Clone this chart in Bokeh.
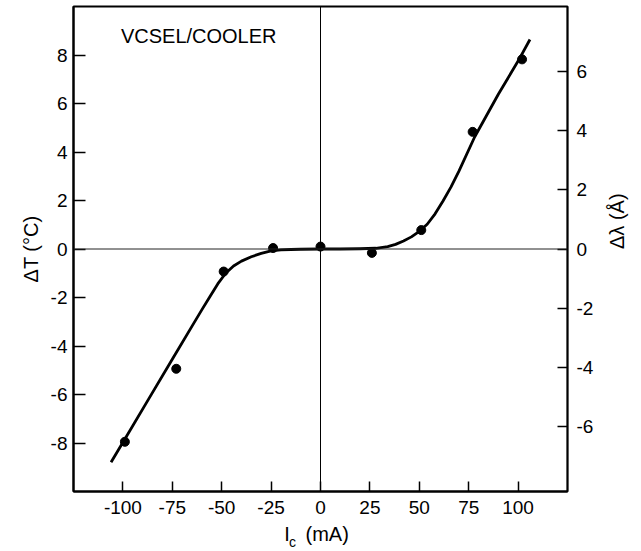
import math
from bokeh.plotting import figure
from bokeh.models import Range1d, LinearAxis, FixedTicker, Span, Label
from bokeh.embed import file_html
from bokeh.resources import INLINE

# measured points
current_ma = [-99, -73, -49, -24, 0, 26, 51, 77, 102]
delta_t = [-7.95, -4.94, -0.93, 0.04, 0.1, -0.16, 0.78, 4.83, 7.82]

# fitted curve
curve_i = [-106, -98, -87, -75, -65, -60, -56, -52, -48, -44, -40, -35, -30, -25, -20,
           -15, -10, 0, 10, 20, 28, 34, 38, 42, 46, 50, 54, 58, 62, 66, 70, 78, 90, 100, 106]
curve_t = [-8.79, -7.7, -6.19, -4.55, -3.18, -2.5, -1.97, -1.44, -1.0, -0.7, -0.5, -0.32,
           -0.18, -0.08, -0.04, -0.02, -0.01, 0.0, 0.0, 0.01, 0.03, 0.1, 0.19, 0.33,
           0.5, 0.73, 1.02, 1.45, 1.98, 2.55, 3.2, 4.62, 6.38, 7.75, 8.64]

x_ticks = [-100, -75, -50, -25, 0, 25, 50, 75, 100]
t_ticks = [-8, -6, -4, -2, 0, 2, 4, 6, 8]
lam_ticks = [-6, -4, -2, 0, 2, 4, 6]
lam_per_deg = 0.8215

FONT = "Liberation Sans"

p = figure(frame_width=494, frame_height=485, output_backend="svg",
           toolbar_location=None, x_range=Range1d(-125, 125),
           y_range=Range1d(-10, 10), min_border_left=73, min_border_right=74,
           min_border_top=6, min_border_bottom=56)
p.xgrid.visible = False
p.ygrid.visible = False
p.outline_line_color = "black"
p.outline_line_width = 2
p.background_fill_color = "white"
p.border_fill_color = "white"

p.extra_y_ranges = {"lam": Range1d(-10 * lam_per_deg, 10 * lam_per_deg)}
right = LinearAxis(y_range_name="lam", ticker=FixedTicker(ticks=lam_ticks),
                   axis_label="Δλ (Å)")
p.add_layout(right, "right")


def hyphen_labels(ticks):
    return {t: str(t) for t in ticks}


for ax in [p.xaxis[0], p.yaxis[0], right]:
    ax.major_tick_out = 0
    ax.minor_tick_out = 0
    ax.minor_tick_in = 0
    ax.major_tick_line_color = "black"
    ax.major_tick_line_width = 1.5
    ax.axis_line_color = "black"
    ax.axis_line_width = 2
    ax.major_label_text_font = FONT
    ax.major_label_text_font_size = "19px"
    ax.major_label_text_color = "black"
    ax.axis_label_text_font = FONT
    ax.axis_label_text_font_size = "20px"
    ax.axis_label_text_font_style = "normal"
    ax.axis_label_text_color = "black"

p.xaxis[0].ticker = FixedTicker(ticks=x_ticks)
p.xaxis[0].major_label_overrides = hyphen_labels(x_ticks)
p.xaxis[0].major_tick_in = 10
p.xaxis[0].major_label_standoff = 9
p.xaxis[0].axis_label = None

p.yaxis[0].ticker = FixedTicker(ticks=t_ticks)
p.yaxis[0].major_label_overrides = hyphen_labels(t_ticks)
p.yaxis[0].major_tick_in = 12
p.yaxis[0].major_label_standoff = 6
p.yaxis[0].axis_label = "ΔT (°C)"
p.yaxis[0].axis_label_standoff = 6

right.major_label_overrides = hyphen_labels(lam_ticks)
right.major_tick_in = 10
right.major_label_standoff = 9
right.axis_label_standoff = 21
right.axis_line_width = 1.5
right.axis_label_orientation = math.pi / 2

# x-axis title "I_c (mA)" built from two label-only axes (main text + subscript)
title_pos = {-17.0: "I", 3.4: "(mA)"}
sub_pos = {-14.2: "c"}
for pos, size, standoff in [(title_pos, "20px", 6), (sub_pos, "14px", -14)]:
    ax = LinearAxis(ticker=FixedTicker(ticks=list(pos.keys())),
                    major_label_overrides=pos)
    ax.axis_line_color = None
    ax.major_tick_line_color = None
    ax.minor_tick_line_color = None
    ax.major_tick_out = 0
    ax.major_tick_in = 0
    ax.major_label_standoff = standoff
    ax.major_label_text_font = FONT
    ax.major_label_text_font_size = size
    ax.major_label_text_color = "black"
    p.add_layout(ax, "below")

p.add_layout(Span(location=0, dimension="height", line_color="black", line_width=1))
p.add_layout(Span(location=0, dimension="width", line_color="#222222", line_width=1))

p.line(curve_i, curve_t, line_color="black", line_width=2.8, line_join="round")
p.scatter(current_ma, delta_t, size=9, fill_color="black", line_color="black")

p.add_layout(Label(x=-101, y=8.78, text="VCSEL/COOLER", text_font=FONT,
                   text_font_size="20px", text_baseline="middle", text_color="black"))

open("out.html", "w").write(file_html(p, INLINE))
